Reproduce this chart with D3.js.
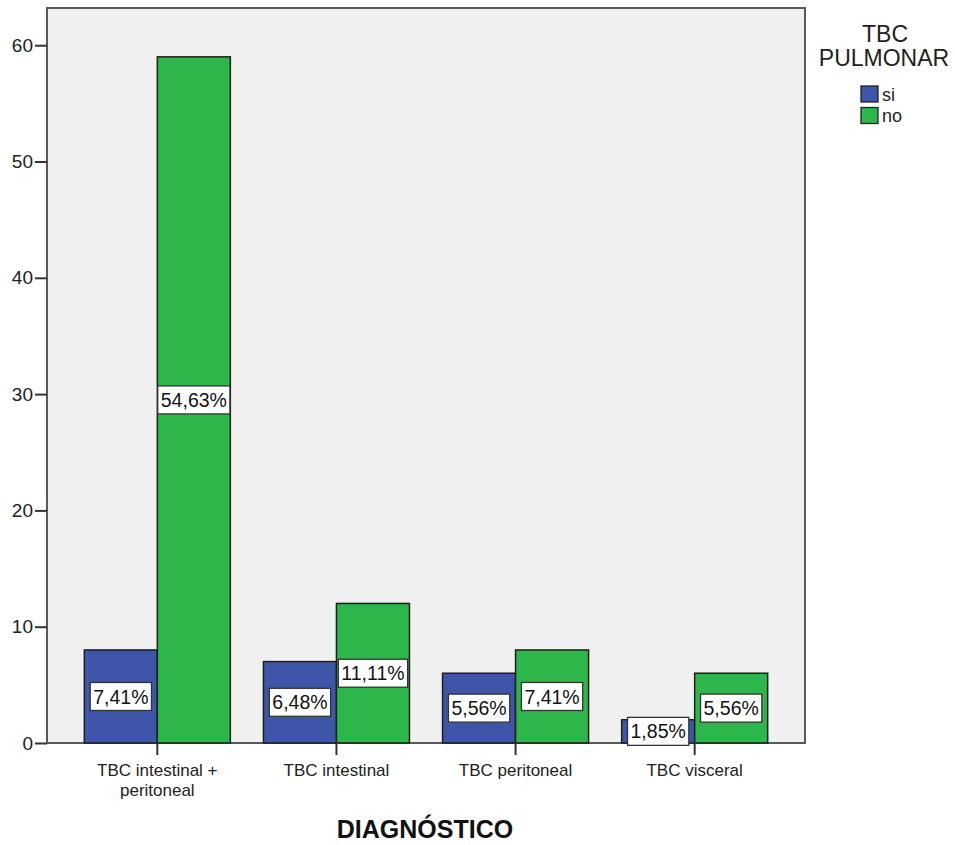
<!DOCTYPE html>
<html>
<head>
<meta charset="utf-8">
<script src="https://cdn.jsdelivr.net/npm/d3@7"></script>
<style>
  html, body { margin: 0; padding: 0; background: #fff; }
  svg { display: block; font-family: Arial, "Liberation Sans", sans-serif; }
</style>
</head>
<body>
<div id="chart"></div>
<script>
// Diagnosis categories (x axis) and pulmonary TB groups (series)
const categories = ["TBC intestinal + peritoneal", "TBC intestinal", "TBC peritoneal", "TBC visceral"];
const categoryLines = [["TBC intestinal +", "peritoneal"], ["TBC intestinal"], ["TBC peritoneal"], ["TBC visceral"]];
const seriesNames = ["si", "no"];
const countsSi = [8, 7, 6, 2];
const countsNo = [59, 12, 8, 6];
const percentSi = ["7,41%", "6,48%", "5,56%", "1,85%"];
const percentNo = ["54,63%", "11,11%", "7,41%", "5,56%"];
const yTicks = [0, 10, 20, 30, 40, 50, 60];

const W = 955, H = 845;
const plot = { left: 47, right: 805, top: 8, bottom: 743 };
const colors = { si: "#3f55a9", no: "#2db64a" };
const FONT = "Arial, 'Liberation Sans', sans-serif";

const svg = d3.select("#chart").append("svg").attr("width", W).attr("height", H);

const x = d3.scaleBand().domain(categories)
  .range([plot.left, plot.right]).paddingInner(0).paddingOuter(0.116);
const xs = d3.scaleBand().domain(seriesNames).range([0, 146]);
const y = d3.scaleLinear().domain([0, 63.2]).range([plot.bottom, plot.top]);

// plot background and frame
svg.append("rect")
  .attr("x", plot.left).attr("y", plot.top)
  .attr("width", plot.right - plot.left).attr("height", plot.bottom - plot.top)
  .attr("fill", "#f0f0f0").attr("stroke", "#5a5a5a").attr("stroke-width", 2);

// y axis
const yAxis = svg.append("g").attr("transform", `translate(${plot.left},0)`)
  .call(d3.axisLeft(y).tickValues(yTicks).tickSize(12).tickPadding(2).tickFormat(d3.format("d")));
yAxis.select(".domain").remove();
yAxis.selectAll(".tick line").attr("stroke", "#333").attr("stroke-width", 2);
yAxis.selectAll(".tick text").attr("font-size", 19).attr("fill", "#222")
  .attr("font-family", FONT);

// rows of bar data
const rows = categories.map((c, i) => ([
  { cat: c, s: "si", v: countsSi[i], p: percentSi[i] },
  { cat: c, s: "no", v: countsNo[i], p: percentNo[i] }
]));

const groups = svg.append("g").selectAll("g").data(rows).join("g")
  .attr("transform", d => `translate(${x(d[0].cat) + x.bandwidth() / 2 - 73},0)`);

groups.selectAll("rect").data(d => d).join("rect")
  .attr("x", d => xs(d.s)).attr("width", xs.bandwidth())
  .attr("y", d => y(d.v)).attr("height", d => y(0) - y(d.v))
  .attr("fill", d => colors[d.s]).attr("stroke", "#1e1e1e").attr("stroke-width", 1.5);

// x axis ticks at category centres
svg.append("g").selectAll("line").data(categories).join("line")
  .attr("x1", d => x(d) + x.bandwidth() / 2).attr("x2", d => x(d) + x.bandwidth() / 2)
  .attr("y1", plot.bottom).attr("y2", plot.bottom + 12)
  .attr("stroke", "#333").attr("stroke-width", 2);

// percentage labels on bars
const labels = groups.selectAll("g.lbl").data(d => d).join("g").attr("class", "lbl")
  .attr("transform", d => `translate(${xs(d.s) + xs.bandwidth() / 2},${y(d.v / 2)})`);
labels.append("text")
  .attr("text-anchor", "middle").attr("dy", "0.36em")
  .attr("font-size", 19.5).attr("fill", "#111")
  .text(d => d.p);
labels.each(function () {
  const g = d3.select(this);
  const bb = g.select("text").node().getBBox();
  g.insert("rect", "text")
    .attr("x", bb.x - 3).attr("y", -14)
    .attr("width", bb.width + 6).attr("height", 28)
    .attr("fill", "#fff").attr("stroke", "#333").attr("stroke-width", 1.3);
});

// category labels
const catLabels = svg.append("g").selectAll("text").data(categories).join("text")
  .attr("text-anchor", "middle").attr("font-size", 17).attr("fill", "#222")
  .attr("x", d => x(d) + x.bandwidth() / 2).attr("y", 776);
catLabels.each(function (d, i) {
  const t = d3.select(this);
  categoryLines[i].forEach((line, k) => {
    t.append("tspan").attr("x", x(d) + x.bandwidth() / 2).attr("dy", k === 0 ? 0 : 19.5).text(line);
  });
});

// x axis title
svg.append("text").attr("x", 425).attr("y", 838).attr("text-anchor", "middle")
  .attr("font-size", 25).attr("font-weight", "bold").attr("fill", "#111")
  .text("DIAGNÓSTICO");

// legend
const legend = svg.append("g");
legend.append("text").attr("x", 885).attr("y", 42).attr("text-anchor", "middle")
  .attr("font-size", 23).attr("fill", "#222").text("TBC");
legend.append("text").attr("x", 884).attr("y", 66).attr("text-anchor", "middle")
  .attr("font-size", 23).attr("fill", "#222").text("PULMONAR");
const li = legend.selectAll("g.item").data(seriesNames).join("g").attr("class", "item")
  .attr("transform", (d, i) => `translate(861,${86 + i * 21.5})`);
li.append("rect").attr("width", 17).attr("height", 16)
  .attr("fill", d => colors[d]).attr("stroke", "#222").attr("stroke-width", 1.3);
li.append("text").attr("x", 21).attr("y", 14.5).attr("font-size", 18).attr("fill", "#222").text(d => d);
</script>
</body>
</html>
